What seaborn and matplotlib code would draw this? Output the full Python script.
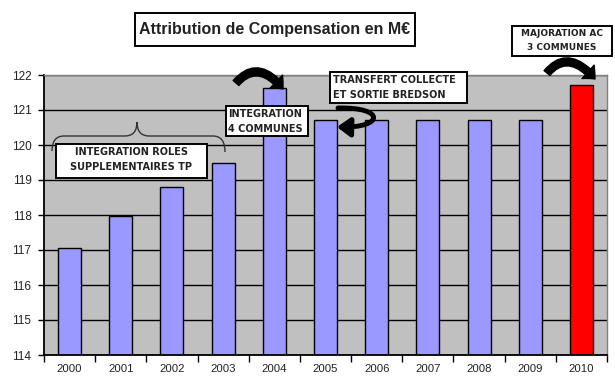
import numpy as np
import pandas as pd
import seaborn as sns
import matplotlib
matplotlib.use("Agg")
import matplotlib.pyplot as plt
from matplotlib.patches import Rectangle, FancyArrowPatch, PathPatch
from matplotlib.path import Path

# ---- data ----
years = ["2000", "2001", "2002", "2003", "2004", "2005", "2006", "2007", "2008", "2009", "2010"]
values = [117.07, 117.98, 118.79, 119.48, 121.62, 120.72, 120.72, 120.72, 120.72, 120.72, 121.71]
bar_colors = ["#9999FF"] * 10 + ["#FF0000"]
y_ticks = [114, 115, 116, 117, 118, 119, 120, 121, 122]
title_text = "Attribution de Compensation en M€"

sns.set_theme(style="white")
plt.rcParams["font.family"] = ["Liberation Sans", "DejaVu Sans"]

W, H = 615, 379
fig = plt.figure(figsize=(6.15, 3.79), dpi=100)
fig.patch.set_facecolor("white")

def fx(px):
    return px / W

def fy(py):
    return 1 - py / H

ax = fig.add_axes([fx(44), fy(355), (607 - 44) / W, (355 - 75) / H])
df = pd.DataFrame({"year": years, "value": values})
sns.barplot(data=df, x="year", y="value", hue="year",
            palette=dict(zip(years, bar_colors)), legend=False,
            width=0.45, edgecolor="black", linewidth=1.0, ax=ax,
            saturation=1)

ax.set_facecolor("#C0C0C0")
ax.set_axisbelow(True)
ax.set_ylim(114, 122)
ax.set_xlim(-0.5, len(years) - 0.5)
ax.set_yticks(y_ticks)
ax.set_yticklabels([str(t) for t in y_ticks], fontsize=8.5, color="#222222")
ax.yaxis.grid(True, color="black", linewidth=1.0)
ax.xaxis.grid(False)
ax.set_xlabel("")
ax.set_ylabel("")
ax.set_xticks(range(len(years)))
ax.set_xticklabels(years, fontsize=8.2, color="#222222")
ax.set_xticks(np.arange(-0.5, len(years), 1.0), minor=True)
ax.tick_params(axis="x", which="major", length=0, pad=6.5)
ax.tick_params(axis="x", which="minor", length=5, width=1, color="black", direction="out", bottom=True)
ax.tick_params(axis="y", length=4, width=1, color="black", direction="out", left=True, pad=5)
for s in ["left", "bottom"]:
    ax.spines[s].set_color("black")
    ax.spines[s].set_linewidth(1.3)
for s in ["top", "right"]:
    ax.spines[s].set_color("#808080")
    ax.spines[s].set_linewidth(1.0)

# ---- boxes ----
def box(x0, y0, x1, y1, lines, fs, ha="center", weight="bold", family="DejaVu Sans", line_ys=None, tx=None):
    r = Rectangle((fx(x0), fy(y1)), (x1 - x0) / W, (y1 - y0) / H,
                  transform=fig.transFigure, facecolor="white",
                  edgecolor="black", linewidth=1.4, zorder=6)
    fig.add_artist(r)
    if line_ys is None:
        line_ys = [(y0 + y1) / 2]
    for ln, ly in zip(lines, line_ys):
        if ha == "center":
            xx = (x0 + x1) / 2
        else:
            xx = tx if tx is not None else x0 + 3
        fig.text(fx(xx), fy(ly), ln, ha=ha, va="center", fontsize=fs,
                 fontweight=weight, family=family, color="#222222", zorder=7)

box(135, 13, 415, 46, [title_text], 11.5, family="Liberation Sans", line_ys=[29.5])
box(512, 26, 612, 56, ["MAJORATION AC", "3 COMMUNES"], 6.5, line_ys=[34, 48])
box(330, 72, 467, 103, ["TRANSFERT COLLECTE", "ET SORTIE BREDSON"], 7.0, ha="left", line_ys=[80, 95], tx=333)
box(226, 106, 308, 136, ["INTEGRATION", "4 COMMUNES"], 7.0, ha="left", line_ys=[114, 129], tx=228)
box(56, 144, 207, 178, ["INTEGRATION ROLES", "SUPPLEMENTAIRES TP"], 7.0, line_ys=[152, 167])

# ---- curved arrows ----
def curved_arrow(p0, pc, p1):
    verts = [(fx(p0[0]), fy(p0[1])), (fx(pc[0]), fy(pc[1])), (fx(p1[0]), fy(p1[1]))]
    path = Path(verts, [Path.MOVETO, Path.CURVE3, Path.CURVE3])
    a = FancyArrowPatch(path=path, transform=fig.transFigure,
                        arrowstyle="simple,head_length=0.55,head_width=1.0,tail_width=0.42",
                        mutation_scale=13, color="black", zorder=8)
    fig.add_artist(a)

curved_arrow((236, 83), (258, 58), (283, 89))
curved_arrow((547, 73), (568, 48), (595, 79))

# hook arrow under the TRANSFERT box
hv = [(fx(x), fy(y)) for x, y in [(338, 108), (386, 107), (384, 128), (337, 127)]]
hpath = Path(hv, [Path.MOVETO, Path.CURVE4, Path.CURVE4, Path.CURVE4])
fig.add_artist(FancyArrowPatch(path=hpath, transform=fig.transFigure,
                               arrowstyle="-|>,head_length=0.55,head_width=0.4",
                               mutation_scale=14, color="black", linewidth=3.5,
                               zorder=8))

# ---- brace ----
bv = [(52, 151), (52, 136), (64, 136), (125, 136), (137, 136), (137, 122),
      (137, 136), (149, 136), (213, 136), (225, 136), (225, 152)]
bc = [Path.MOVETO, Path.CURVE3, Path.CURVE3, Path.LINETO, Path.CURVE3, Path.CURVE3,
      Path.CURVE3, Path.CURVE3, Path.LINETO, Path.CURVE3, Path.CURVE3]
bpath = Path([(fx(x), fy(y)) for x, y in bv], bc)
fig.add_artist(PathPatch(bpath, transform=fig.transFigure, facecolor="none",
                         edgecolor="#333333", linewidth=1.0, zorder=5))

fig.savefig("out.png", dpi=100)
